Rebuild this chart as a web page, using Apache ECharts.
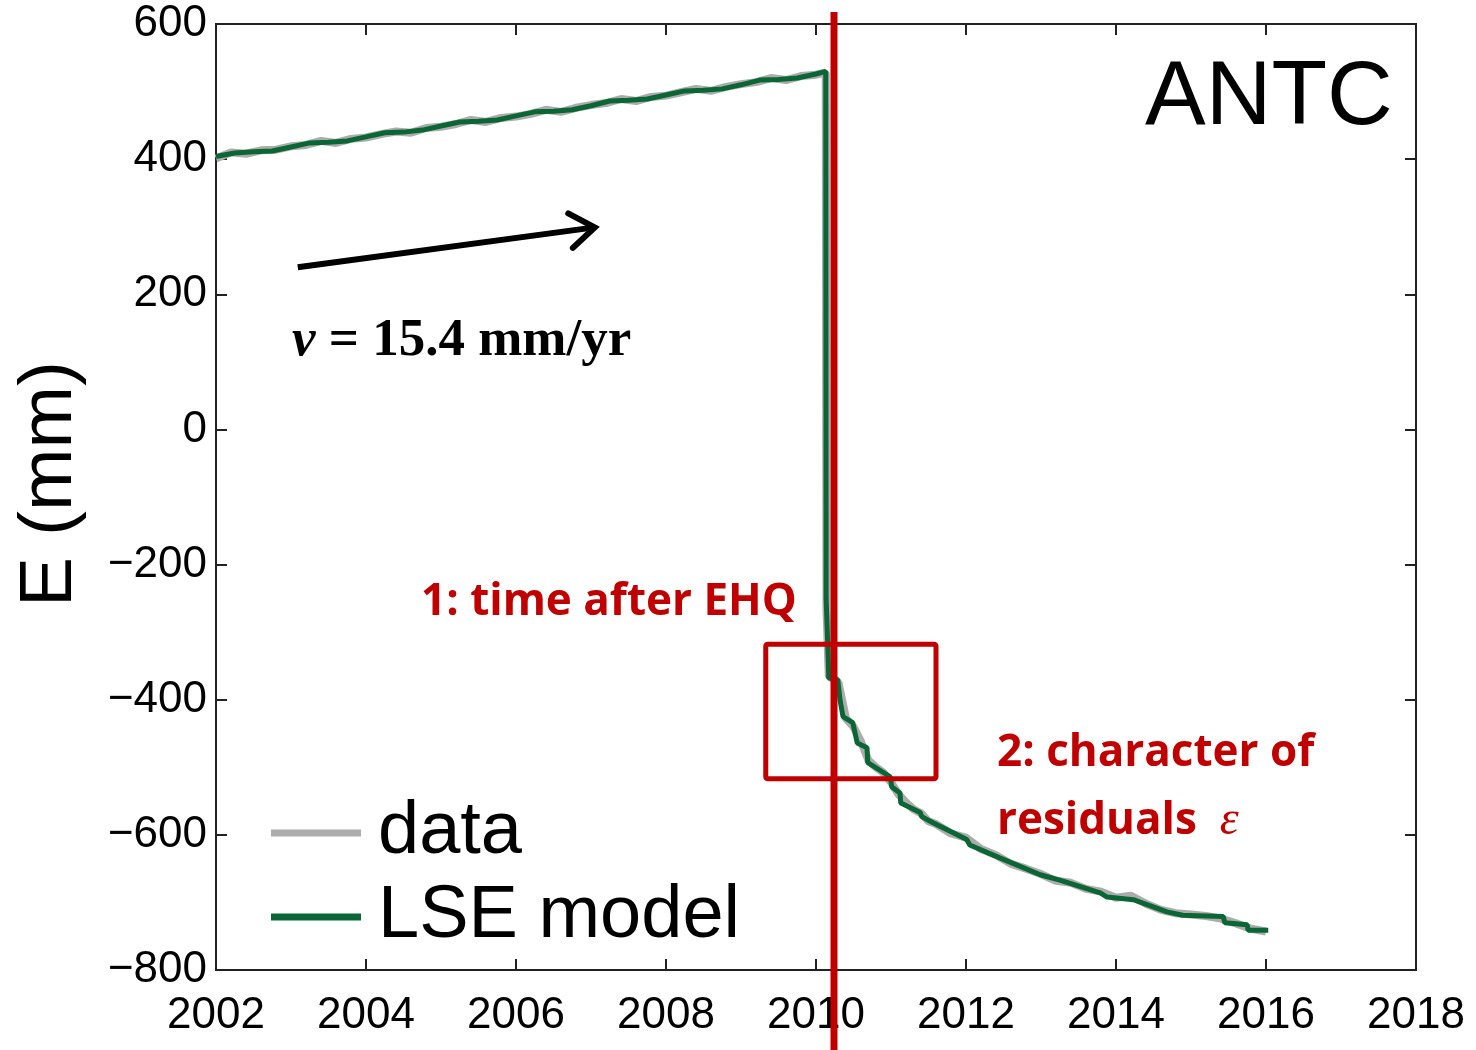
<!DOCTYPE html>
<html>
<head>
<meta charset="utf-8">
<script src="https://cdn.jsdelivr.net/npm/echarts@6/dist/echarts.min.js"></script>
<style>
  html, body { margin: 0; padding: 0; background: #fff; }
  #chart { width: 1476px; height: 1050px; }
</style>
</head>
<body>
<div id="chart"></div>
<script>
// GPS station ANTC, east component: observations and the LSE model fit
const modelYears = [
  2002.00, 2002.25, 2002.50, 2002.75, 2003.00, 2003.25, 2003.50, 2003.75,
  2004.00, 2004.25, 2004.50, 2004.75, 2005.00, 2005.25, 2005.50, 2005.75,
  2006.00, 2006.25, 2006.50, 2006.75, 2007.00, 2007.25, 2007.50, 2007.75,
  2008.00, 2008.25, 2008.50, 2008.75, 2009.00, 2009.25, 2009.50, 2009.75,
  2010.00, 2010.13,
  2010.135, 2010.16, 2010.17, 2010.29, 2010.32, 2010.36, 2010.49, 2010.55,
  2010.68, 2010.69, 2010.99, 2011.01, 2011.12, 2011.13, 2011.39, 2011.41,
  2011.56, 2012.01, 2012.05, 2012.45, 2012.99, 2013.25, 2013.79, 2013.88,
  2014.23, 2014.68, 2014.89, 2015.43, 2015.45, 2015.75, 2015.76, 2016.03
];
const modelE = [
  404, 409, 411, 412, 418, 424, 425, 427,
  433, 439, 440, 443, 449, 455, 456, 458,
  464, 470, 471, 473, 479, 486, 487, 489,
  495, 501, 502, 504, 510, 517, 518, 520,
  526, 530,
  -250, -330, -368, -370, -400, -425, -434, -464,
  -471, -493, -514, -529, -538, -553, -567, -573,
  -582, -607, -615, -634, -659, -667, -686, -692,
  -696, -714, -719, -721, -730, -733, -741, -741
];

const dataYears = [
  2002.0, 2002.2, 2002.4, 2002.6, 2002.8, 2003.0, 2003.2, 2003.4, 2003.6, 2003.8,
  2004.0, 2004.2, 2004.4, 2004.6, 2004.8, 2005.0, 2005.2, 2005.4, 2005.6, 2005.8,
  2006.0, 2006.2, 2006.4, 2006.6, 2006.8, 2007.0, 2007.2, 2007.4, 2007.6, 2007.8,
  2008.0, 2008.2, 2008.4, 2008.6, 2008.8, 2009.0, 2009.2, 2009.4, 2009.6, 2009.8,
  2010.0, 2010.13,
  2010.14, 2010.17, 2010.3, 2010.4, 2010.5, 2010.6, 2010.7, 2010.8, 2010.9, 2011.0,
  2011.1, 2011.2, 2011.3, 2011.4, 2011.5, 2011.6, 2011.8, 2012.0, 2012.2, 2012.4,
  2012.6, 2012.8, 2013.0, 2013.2, 2013.4, 2013.6, 2013.8, 2014.0, 2014.2, 2014.4,
  2014.6, 2014.8, 2015.0, 2015.2, 2015.4, 2015.6, 2015.8, 2016.0
];
const dataE = [
  401, 410, 408, 413, 414, 419, 421, 427, 424, 430,
  432, 437, 441, 439, 446, 448, 452, 458, 455, 461,
  463, 467, 473, 470, 476, 480, 483, 489, 486, 492,
  494, 499, 504, 501, 507, 511, 514, 520, 517, 523,
  525, 528,
  -265, -365, -375, -428, -440, -462, -490, -500, -508, -522,
  -540, -552, -562, -568, -580, -584, -598, -604, -621, -630,
  -643, -650, -658, -668, -671, -680, -684, -693, -690, -702,
  -711, -716, -718, -720, -724, -731, -739, -743
];

const xTicks = { min: 2002, max: 2018, step: 2 };
const yTicks = { min: -800, max: 600, step: 200 };

// annotation anchors in data units
const quakeLineYear = 2010.24;
const zoomBox = { x0: 2009.33, x1: 2011.6, y0: -318, y1: -517 };
const velocityArrow = { from: [2003.09, 240], to: [2007.05, 299] };

const RED = '#c00000';
const GREEN = '#0b6636';
const GRAY = '#acacac';
const SANS = '"Liberation Sans", Arial, Helvetica, sans-serif';
const SERIF = '"Liberation Serif", "Times New Roman", serif';
const RED_FONT = '"Open Sans", "Lato", sans-serif';

const pairs = (xs, ys) => xs.map((x, i) => [x, ys[i]]);

const chart = echarts.init(document.getElementById('chart'), null, { renderer: 'canvas' });

const tickStyle = { show: true, inside: true, length: 11, lineStyle: { color: '#222', width: 2 } };
const frameLine = { show: true, onZero: false, lineStyle: { color: '#222', width: 2 } };

chart.setOption({
  animation: false,
  backgroundColor: '#fff',
  grid: {
    left: 216, right: 60, top: 24, bottom: 80,
    outerBoundsMode: 'none', containLabel: false,
    show: true, borderColor: '#222', borderWidth: 2, backgroundColor: 'transparent'
  },
  title: {
    text: 'ANTC', left: 1140, top: 48,
    textStyle: { fontFamily: SANS, fontSize: 91, fontWeight: 'normal', color: '#000' }
  },
  legend: {
    left: 266, top: 788, orient: 'vertical', itemGap: 4,
    itemWidth: 90, itemHeight: 7, icon: 'rect',
    textStyle: { fontFamily: SANS, fontSize: 74, color: '#000', padding: [0, 0, 0, 12], lineHeight: 80 },
    data: ['data', 'LSE model']
  },
  xAxis: [
    {
      type: 'value', min: xTicks.min, max: xTicks.max, interval: xTicks.step, position: 'bottom',
      axisLine: frameLine, axisTick: tickStyle, splitLine: { show: false },
      axisLabel: { margin: 24, fontFamily: SANS, fontSize: 44, color: '#000', formatter: v => String(v) }
    },
    {
      type: 'value', min: xTicks.min, max: xTicks.max, interval: xTicks.step, position: 'top',
      axisLine: frameLine, axisTick: tickStyle, splitLine: { show: false }, axisLabel: { show: false }
    }
  ],
  yAxis: [
    {
      type: 'value', min: yTicks.min, max: yTicks.max, interval: yTicks.step, position: 'left',
      name: 'E (mm)', nameLocation: 'middle', nameGap: 128, nameRotate: 90,
      nameTextStyle: { fontFamily: SANS, fontSize: 75, color: '#000', padding: [0, 0, 0, 26] },
      axisLine: frameLine, axisTick: tickStyle, splitLine: { show: false },
      axisLabel: { margin: 9, fontFamily: SANS, fontSize: 44, color: '#000', formatter: v => String(v).replace('-', '\u2212') }
    },
    {
      type: 'value', min: yTicks.min, max: yTicks.max, interval: yTicks.step, position: 'right',
      axisLine: frameLine, axisTick: tickStyle, splitLine: { show: false }, axisLabel: { show: false }
    }
  ],
  series: [
    {
      name: 'data', type: 'line', data: pairs(dataYears, dataE),
      showSymbol: false, symbol: 'none', color: GRAY,
      lineStyle: { color: GRAY, width: 8 }, z: 2
    },
    {
      name: 'LSE model', type: 'line', data: pairs(modelYears, modelE),
      showSymbol: false, symbol: 'none', color: GREEN,
      lineStyle: { color: GREEN, width: 5 }, z: 3
    }
  ]
});

// Annotations: earthquake time marker, zoom box, velocity arrow and labels
const px = (x, y) => chart.convertToPixel({ xAxisIndex: 0, yAxisIndex: 0 }, [x, y]);

const qTop = px(quakeLineYear, yTicks.max);
const b0 = px(zoomBox.x0, zoomBox.y0);
const b1 = px(zoomBox.x1, zoomBox.y1);
const a0 = px(velocityArrow.from[0], velocityArrow.from[1]);
const a1 = px(velocityArrow.to[0], velocityArrow.to[1]);

// arrow head: two strokes angled back from the tip
const ang = Math.atan2(a1[1] - a0[1], a1[0] - a0[0]);
const headLen = 30, headAng = 0.62;
const h1 = [a1[0] - headLen * Math.cos(ang - headAng), a1[1] - headLen * Math.sin(ang - headAng)];
const h2 = [a1[0] - headLen * Math.cos(ang + headAng), a1[1] - headLen * Math.sin(ang + headAng)];

chart.setOption({
  graphic: [
    {
      type: 'rect', z: 100,
      shape: { x: b0[0], y: b0[1], width: b1[0] - b0[0], height: b1[1] - b0[1], r: 2 },
      style: { fill: 'none', stroke: RED, lineWidth: 5 }
    },
    {
      type: 'line', z: 101,
      shape: { x1: qTop[0], y1: 12, x2: qTop[0], y2: 1050 },
      style: { stroke: RED, lineWidth: 7 }
    },
    {
      type: 'polyline', z: 100,
      shape: { points: [a0, a1] },
      style: { stroke: '#000', lineWidth: 6, fill: 'none' }
    },
    {
      type: 'polyline', z: 100,
      shape: { points: [h1, a1, h2] },
      style: { stroke: '#000', lineWidth: 6, fill: 'none', lineJoin: 'miter', lineCap: 'round' }
    },
    {
      type: 'text', z: 100, left: 292, top: 315,
      style: {
        text: '{i|v}{b| = 15.4 mm/yr}',
        rich: {
          i: { fontFamily: SERIF, fontStyle: 'italic', fontWeight: 'bold', fontSize: 53, fill: '#000' },
          b: { fontFamily: SERIF, fontWeight: 'bold', fontSize: 53, fill: '#000' }
        }
      }
    },
    {
      type: 'text', z: 100, left: 421, top: 580,
      style: { text: '1: time after EHQ', fontFamily: RED_FONT, fontWeight: 'bold', fontSize: 44, fill: RED }
    },
    {
      type: 'text', z: 100, left: 997, top: 731,
      style: { text: '2: character of', fontFamily: RED_FONT, fontWeight: 'bold', fontSize: 44, fill: RED }
    },
    {
      type: 'text', z: 100, left: 997, top: 797,
      style: {
        text: '{a|residuals  }{e|\u03b5}',
        rich: {
          a: { fontFamily: RED_FONT, fontWeight: 'bold', fontSize: 44, fill: RED },
          e: { fontFamily: SERIF, fontStyle: 'italic', fontSize: 48, fill: RED }
        }
      }
    }
  ]
});
</script>
</body>
</html>
